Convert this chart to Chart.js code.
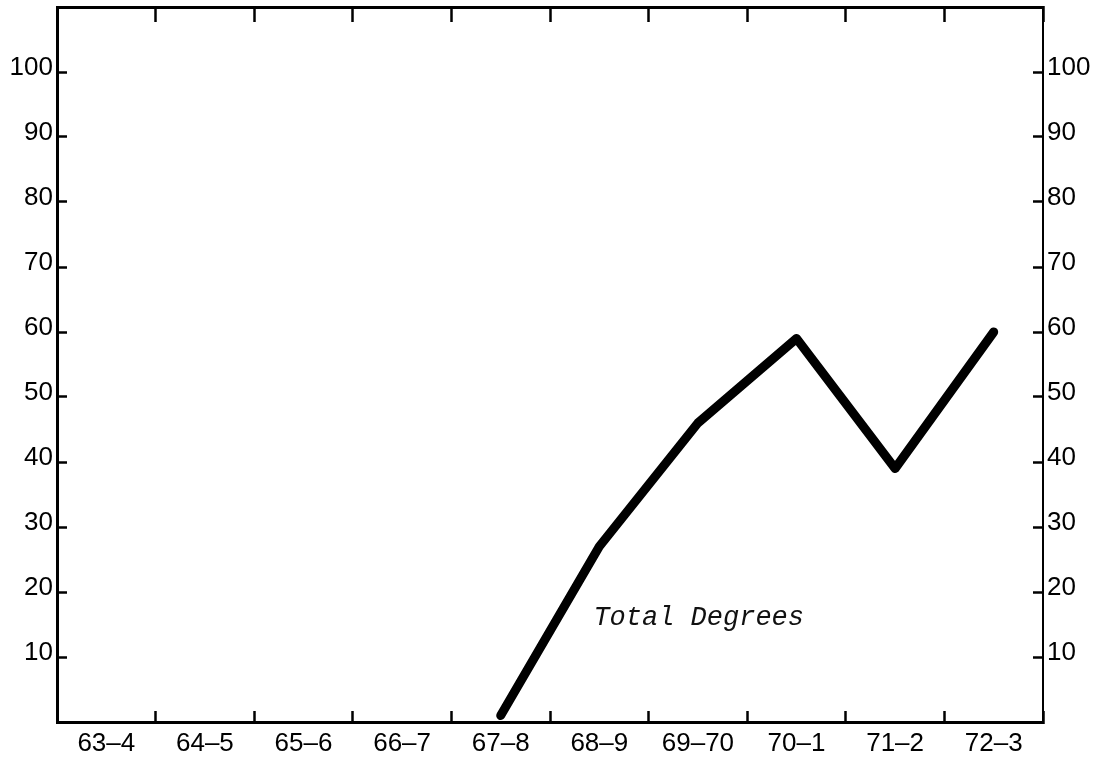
<!DOCTYPE html>
<html>
<head>
<meta charset="utf-8">
<script src="https://cdn.jsdelivr.net/npm/chart.js@4.4.0/dist/chart.umd.min.js"></script>
<style>
  body { margin: 0; background: #fff; }
  canvas { display: block; }
</style>
</head>
<body>
<canvas id="chart" width="1111" height="762"></canvas>
<script>
// values
const years = ["63–4", "64–5", "65–6", "66–7", "67–8", "68–9", "69–70", "70–1", "71–2", "72–3"];
const totalDegrees = [null, null, null, null, 1, 27, 46, 59, 39, 60];
const yTicks = [10, 20, 30, 40, 50, 60, 70, 80, 90, 100];
const noteText = "Total Degrees";

const ink = "#000";
const tickFont = { family: "Liberation Sans", size: 26 };

// y axis ticks are fixed to the printed values only
function setYTicks(scale) {
  scale.ticks = yTicks.map((v) => ({ value: v }));
}

// fixed box sizes so the plot frame lands where the scan has it
function fitBox(size) {
  return (s) => {
    if (s.isHorizontal()) s.height = size;
    else s.width = size;
    s.paddingTop = 0;
    s.paddingBottom = 0;
    s.paddingLeft = 0;
    s.paddingRight = 0;
  };
}

// the "Total Degrees" label sits in data space
const notePlugin = {
  id: "note",
  afterDatasetsDraw(chart) {
    const { ctx, scales } = chart;
    ctx.save();
    ctx.font = 'italic 27px "Liberation Mono"';
    ctx.fillStyle = "#111";
    ctx.textBaseline = "middle";
    ctx.fillText(noteText, scales.x.getPixelForValue(4.94), scales.y.getPixelForValue(16));
    ctx.restore();
  },
};

const chart = document.querySelector("#chart");

new Chart(chart, {
  type: "line",
  data: {
    labels: years,
    datasets: [
      {
        label: noteText,
        data: totalDegrees,
        borderColor: ink,
        borderWidth: 9,
        borderCapStyle: "round",
        borderJoinStyle: "round",
        pointRadius: 0,
        tension: 0,
      },
    ],
  },
  options: {
    responsive: false,
    animation: false,
    layout: { padding: 0 },
    plugins: {
      legend: { display: false },
      tooltip: { enabled: false },
    },
    scales: {
      x: {
        type: "category",
        position: "bottom",
        offset: true,
        afterFit: fitBox(40),
        grid: {
          offset: true,
          drawOnChartArea: false,
          tickLength: -11,
          tickColor: ink,
          tickWidth: 2.5,
        },
        border: { display: true, color: ink, width: 3 },
        ticks: {
          color: ink,
          font: tickFont,
          padding: 17,
          maxRotation: 0,
          autoSkip: false,
        },
      },
      x2: {
        type: "category",
        position: "top",
        offset: true,
        afterFit: fitBox(7),
        grid: {
          offset: true,
          drawOnChartArea: false,
          tickLength: -15,
          tickColor: ink,
          tickWidth: 2.5,
        },
        border: { display: true, color: ink, width: 3 },
        ticks: { display: false },
      },
      y: {
        position: "left",
        min: 0,
        max: 110,
        afterBuildTicks: setYTicks,
        afterFit: fitBox(57),
        grid: {
          drawOnChartArea: false,
          tickLength: -10,
          tickColor: ink,
          tickWidth: 2.5,
        },
        border: { display: true, color: ink, width: 3 },
        ticks: { color: ink, font: tickFont, padding: 14, labelOffset: -4 },
      },
      y2: {
        position: "right",
        min: 0,
        max: 110,
        afterBuildTicks: setYTicks,
        afterFit: fitBox(68),
        grid: {
          drawOnChartArea: false,
          tickLength: -10,
          tickColor: ink,
          tickWidth: 2.5,
        },
        border: { display: true, color: ink, width: 2 },
        ticks: { color: ink, font: tickFont, padding: 14, labelOffset: -4 },
      },
    },
  },
  plugins: [notePlugin],
});
</script>
</body>
</html>
